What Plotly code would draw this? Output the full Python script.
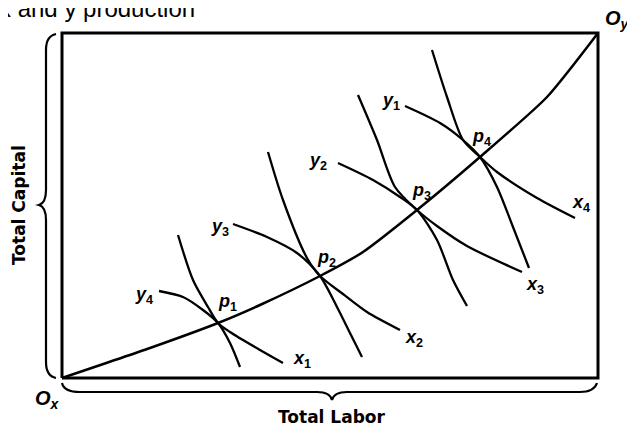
import plotly.graph_objects as go

# Coordinates are in the diagram's own frame (pixel-like units, y grows downward)
box_x = [62, 598, 598, 62, 62]
box_y = [378, 378, 33, 33, 378]

contract_x = [62, 150, 218, 260, 320, 363, 417, 480, 547, 598]
contract_y = [378, 348, 323, 305, 276, 252, 210, 157, 97, 33]

# x-isoquants (convex to O_x): steep at top, flattening toward lower right
x1_x = [178, 193, 208, 218, 230, 260, 283]
x1_y = [235, 280, 307, 323, 332, 350, 363]
x2_x = [268, 283, 307, 320, 343, 367, 400]
x2_y = [152, 200, 258, 276, 294, 312, 330]
x3_x = [358, 377, 395, 417, 437, 467, 522]
x3_y = [95, 140, 187, 210, 226, 246, 272]
x4_x = [432, 447, 463, 480, 497, 537, 575]
x4_y = [50, 97, 140, 157, 172, 198, 218]

# y-isoquants (convex to O_y): flat at left, steepening toward the bottom
y4_x = [159, 183, 203, 218, 230, 240]
y4_y = [291, 297, 310, 323, 343, 367]
y3_x = [233, 267, 297, 320, 337, 350, 362]
y3_y = [224, 237, 253, 276, 307, 333, 357]
y2_x = [338, 373, 400, 417, 437, 453, 467]
y2_y = [163, 180, 197, 210, 240, 280, 306]
y1_x = [405, 440, 463, 480, 497, 513, 529]
y1_y = [106, 123, 140, 157, 187, 227, 268]

curves = [(x1_x, x1_y), (x2_x, x2_y), (x3_x, x3_y), (x4_x, x4_y),
          (y1_x, y1_y), (y2_x, y2_y), (y3_x, y3_y), (y4_x, y4_y)]

label_text = ["<i>y</i><sub>4</sub>", "<i>p</i><sub>1</sub>", "<i>x</i><sub>1</sub>",
              "<i>y</i><sub>3</sub>", "<i>p</i><sub>2</sub>", "<i>x</i><sub>2</sub>",
              "<i>y</i><sub>2</sub>", "<i>p</i><sub>3</sub>", "<i>x</i><sub>3</sub>",
              "<i>y</i><sub>1</sub>", "<i>p</i><sub>4</sub>", "<i>x</i><sub>4</sub>"]
label_x = [144, 227, 302, 220, 326, 414, 318, 421, 535, 391, 481, 581]
label_y = [295, 302, 359, 227, 258, 338, 161, 191, 285, 101, 137, 203]

# the page body has an 8px margin, so the axis ranges start at 8 to keep the frame aligned
OFF = 8
W, H = 635, 431

fig = go.Figure()

fig.add_trace(go.Scatter(x=box_x, y=box_y, mode="lines",
                         line=dict(color="black", width=3), hoverinfo="skip"))
fig.add_trace(go.Scatter(x=contract_x, y=contract_y, mode="lines",
                         line=dict(color="black", width=2.5, shape="spline", smoothing=0.6),
                         hoverinfo="skip"))
for cx, cy in curves:
    fig.add_trace(go.Scatter(x=cx, y=cy, mode="lines",
                             line=dict(color="black", width=2.3, shape="spline", smoothing=0.8),
                             hoverinfo="skip"))

LF = "Arial, Liberation Sans, sans-serif"
anns = []
for t, ax, ay in zip(label_text, label_x, label_y):
    anns.append(dict(x=ax, y=ay, xref="x", yref="y", text="<b>" + t + "</b>",
                     showarrow=False, font=dict(family=LF, size=18, color="black")))

anns.append(dict(x=47, y=399, xref="x", yref="y", text="<b><i>O</i><sub><i>x</i></sub></b>",
                 showarrow=False, font=dict(family=LF, size=20, color="black")))
anns.append(dict(x=617, y=19, xref="x", yref="y", text="<b><i>O</i><sub><i>y</i></sub></b>",
                 showarrow=False, font=dict(family=LF, size=20, color="black")))
anns.append(dict(x=19, y=205, xref="x", yref="y", text="<b>Total Capital</b>", textangle=-90,
                 showarrow=False, font=dict(family="DejaVu Sans", size=17, color="black")))
anns.append(dict(x=332, y=417, xref="x", yref="y", text="<b>Total Labor</b>",
                 showarrow=False, font=dict(family="DejaVu Sans", size=17, color="black")))
anns.append(dict(x=(-3 - OFF) / W, y=1 - (8 - OFF) / H, xref="paper", yref="paper",
                 text="x and y production", xanchor="left", yanchor="middle",
                 showarrow=False, font=dict(family=LF, size=24, color="black")))

shapes = [
    dict(type="path", xref="x", yref="y",
         path="M 56 34 Q 46 36 46 50 L 46 190 Q 46 203 39 205 Q 46 207 46 220 L 46 362 Q 46 376 56 378",
         line=dict(color="black", width=2.2)),
    dict(type="path", xref="x", yref="y",
         path="M 62 383 Q 64 392 80 392 L 317 392 Q 330 392 332 400 Q 334 392 347 392 L 580 392 Q 594 392 597 383",
         line=dict(color="black", width=2.2)),
]

fig.update_layout(
    width=W, height=H,
    margin=dict(l=0, r=0, t=0, b=0),
    paper_bgcolor="white", plot_bgcolor="white",
    showlegend=False,
    xaxis=dict(range=[OFF, OFF + W], visible=False, fixedrange=True),
    yaxis=dict(range=[OFF + H, OFF], visible=False, fixedrange=True),
    annotations=anns, shapes=shapes,
)

fig.write_html("out.html")
